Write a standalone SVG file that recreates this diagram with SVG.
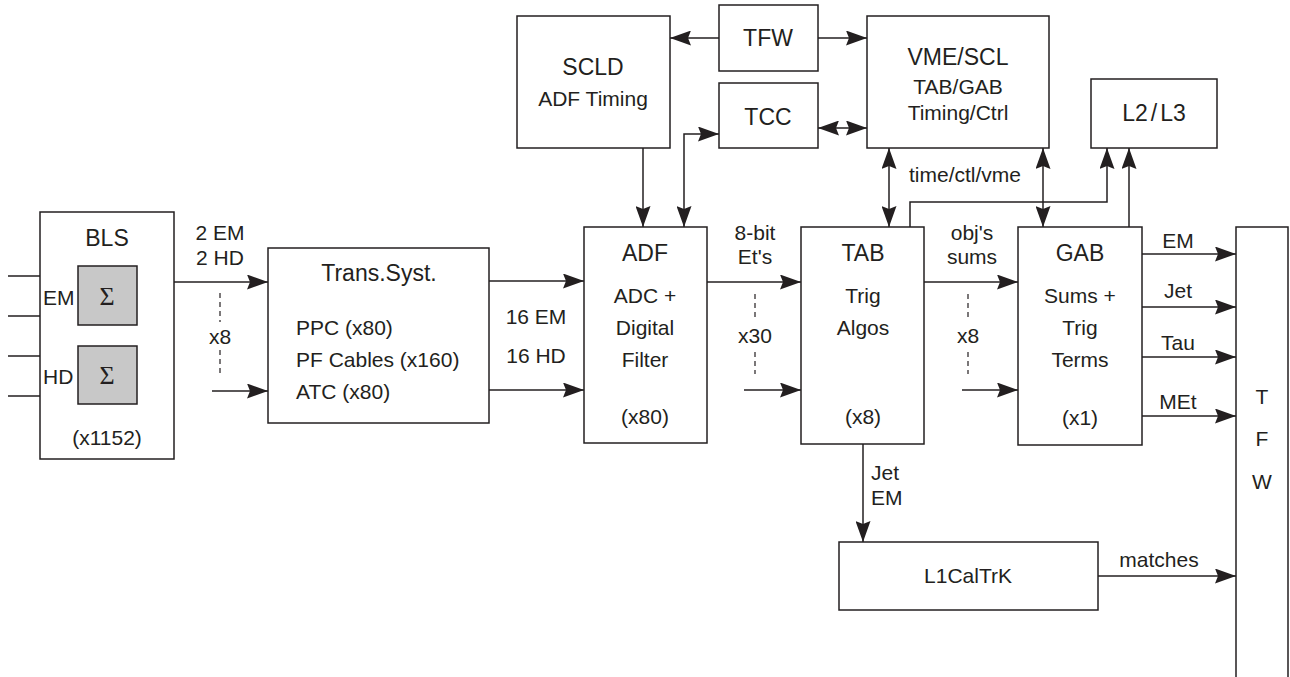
<svg xmlns="http://www.w3.org/2000/svg" width="1290" height="677" viewBox="0 0 1290 677">
<style>
.box{fill:#fff;stroke:#231f20;stroke-width:1.5}
.sig{fill:#c8c8c8;stroke:#231f20;stroke-width:1.5}
.ln{fill:none;stroke:#231f20;stroke-width:1.5}
.a{marker-end:url(#ah)}
.aa{marker-end:url(#ah);marker-start:url(#ah)}
.dash{fill:none;stroke:#231f20;stroke-width:1.2;stroke-dasharray:5,4}
text{font-family:"Liberation Sans",Arial,sans-serif;fill:#231f20;font-size:21px}
.t{font-size:23px}
.c{text-anchor:middle}
.s{font-family:"Liberation Serif","Times New Roman",serif;font-size:26px}
</style>
<defs>
<marker id="ah" viewBox="0 0 21 15" refX="21" refY="7.5" markerWidth="21" markerHeight="15" markerUnits="userSpaceOnUse" orient="auto-start-reverse">
<path d="M0,0 L21,7.5 L0,15 L3,7.5 Z" fill="#231f20"/>
</marker>
</defs>
<g id="connectors">
<path class="ln" d="M8,276 H78 M8,316 H78 M8,356 H78 M8,396 H78"/>
<path class="ln a" d="M174,282 H268"/>
<path class="ln a" d="M212,391 H268"/>
<path class="dash" d="M220,293 V322 M220,350 V373"/>
<path class="ln a" d="M489,281 H584"/>
<path class="ln a" d="M489,390 H584"/>
<path class="ln a" d="M707,282 H801"/>
<path class="ln a" d="M744,390 H801"/>
<path class="dash" d="M755,294 V320 M755,352 V374"/>
<path class="ln a" d="M924,282 H1018"/>
<path class="ln a" d="M962,390 H1018"/>
<path class="dash" d="M968,294 V320 M968,352 V374"/>
<path class="ln a" d="M1142,254 H1236"/>
<path class="ln a" d="M1142,307 H1236"/>
<path class="ln a" d="M1142,357 H1236"/>
<path class="ln a" d="M1142,416 H1236"/>
<path class="ln a" d="M863,444 V542"/>
<path class="ln a" d="M1098,576 H1236"/>
<path class="ln a" d="M719,38 H670"/>
<path class="ln a" d="M818,38 H867"/>
<path class="ln aa" d="M818,128 H867"/>
<path class="ln a" d="M643,148 V227"/>
<path class="ln aa" d="M684,227 V134 H719"/>
<path class="ln aa" d="M889,148 V227"/>
<path class="ln aa" d="M1043,148 V227"/>
<path class="ln a" d="M910,227 V202 H1107 V148"/>
<path class="ln a" d="M1129,227 V148"/>
</g>
<g id="labels">
<text class="c" x="220" y="240">2 EM</text>
<text class="c" x="220" y="265">2 HD</text>
<text class="c" x="220" y="344">x8</text>
<text class="c" x="536" y="324">16 EM</text>
<text class="c" x="536" y="363">16 HD</text>
<text class="c" x="755" y="240">8-bit</text>
<text class="c" x="755" y="264">Et's</text>
<text class="c" x="755" y="343">x30</text>
<text class="c" x="972" y="240">obj's</text>
<text class="c" x="972" y="264">sums</text>
<text class="c" x="968" y="343">x8</text>
<text class="c" x="965" y="182">time/ctl/vme</text>
<text class="c" x="1178" y="248">EM</text>
<text class="c" x="1178" y="298">Jet</text>
<text class="c" x="1178" y="350">Tau</text>
<text class="c" x="1178" y="409">MEt</text>
<text class="c" x="1159" y="567">matches</text>
<text x="871" y="480">Jet</text>
<text x="871" y="505">EM</text>
</g>
<g id="bls">
<rect class="box" x="40" y="212" width="134" height="247"/>
<text class="t c" x="107" y="246">BLS</text>
<rect class="sig" x="78" y="266" width="59" height="59"/>
<rect class="sig" x="78" y="346" width="59" height="58"/>
<text class="s c" x="107" y="305">Σ</text>
<text class="s c" x="107" y="384">Σ</text>
<text x="43" y="305">EM</text>
<text x="43" y="384">HD</text>
<text class="c" x="107" y="445">(x1152)</text>
</g>
<g id="trans">
<rect class="box" x="268" y="248" width="221" height="175"/>
<text class="t c" x="379" y="281">Trans.Syst.</text>
<text x="296" y="335">PPC (x80)</text>
<text x="296" y="367">PF Cables (x160)</text>
<text x="296" y="399">ATC (x80)</text>
</g>
<g id="adf">
<rect class="box" x="584" y="227" width="123" height="216"/>
<text class="t c" x="645" y="261">ADF</text>
<text class="c" x="645" y="303">ADC +</text>
<text class="c" x="645" y="335">Digital</text>
<text class="c" x="645" y="367">Filter</text>
<text class="c" x="645" y="424">(x80)</text>
</g>
<g id="tab">
<rect class="box" x="801" y="227" width="123" height="217"/>
<text class="t c" x="863" y="261">TAB</text>
<text class="c" x="863" y="303">Trig</text>
<text class="c" x="863" y="335">Algos</text>
<text class="c" x="863" y="424">(x8)</text>
</g>
<g id="gab">
<rect class="box" x="1018" y="227" width="124" height="218"/>
<text class="t c" x="1080" y="261">GAB</text>
<text class="c" x="1080" y="303">Sums +</text>
<text class="c" x="1080" y="335">Trig</text>
<text class="c" x="1080" y="367">Terms</text>
<text class="c" x="1080" y="425">(x1)</text>
</g>
<g id="tfw-bar">
<path class="box" d="M1236,680 V227 H1288 V680"/>
<text class="c" x="1262" y="404">T</text>
<text class="c" x="1262" y="446">F</text>
<text class="c" x="1262" y="489">W</text>
</g>
<g id="l1caltrk">
<rect class="box" x="839" y="542" width="259" height="68"/>
<text class="c" x="968" y="583">L1CalTrK</text>
</g>
<g id="scld">
<rect class="box" x="517" y="16" width="153" height="132"/>
<text class="t c" x="593" y="75">SCLD</text>
<text class="c" x="593" y="106">ADF Timing</text>
</g>
<g id="tfw">
<rect class="box" x="719" y="5" width="99" height="66"/>
<text class="t c" x="768" y="46">TFW</text>
</g>
<g id="tcc">
<rect class="box" x="719" y="83" width="99" height="65"/>
<text class="t c" x="768" y="125">TCC</text>
</g>
<g id="vme">
<rect class="box" x="867" y="16" width="182" height="132"/>
<text class="t c" x="958" y="65">VME/SCL</text>
<text class="c" x="958" y="94">TAB/GAB</text>
<text class="c" x="958" y="120">Timing/Ctrl</text>
</g>
<g id="l2l3">
<rect class="box" x="1091" y="79" width="126" height="69"/>
<text class="t c" x="1154" y="121">L2<tspan dx="3">/</tspan><tspan dx="3">L3</tspan></text>
</g>
</svg>
